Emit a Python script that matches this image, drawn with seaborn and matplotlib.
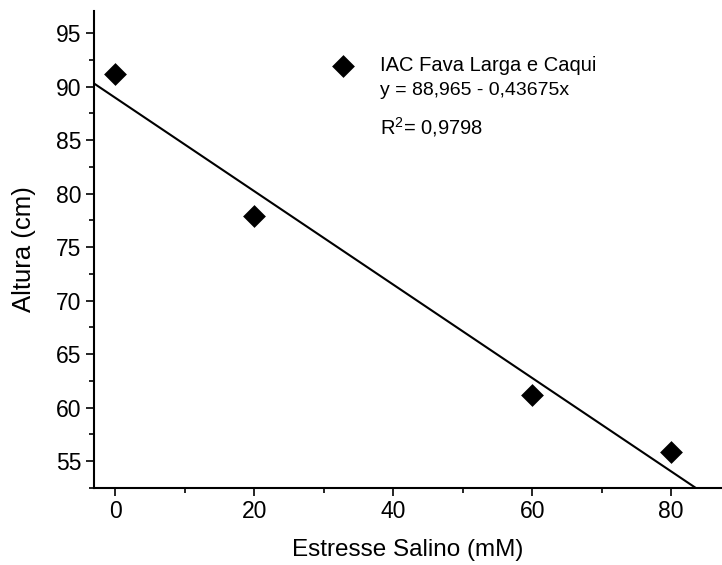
import numpy as np
import pandas as pd
import matplotlib
matplotlib.use("Agg")
import matplotlib.pyplot as plt
import seaborn as sns
from matplotlib.ticker import MultipleLocator

# Data
salinity = [0, 20, 60, 80]
height = [91.15, 77.9, 61.2, 55.8]
series_name = "IAC Fava Larga e Caqui"
intercept = 88.965
slope = -0.43675
eq_text = "y = 88,965 - 0,43675x"
r2_text = r"R$^2$= 0,9798"
x_ticks = [0, 20, 40, 60, 80]
y_ticks = [55, 60, 65, 70, 75, 80, 85, 90, 95]

df = pd.DataFrame({"x": salinity, "y": height})

sns.set_style("ticks")
plt.rcParams['font.family'] = ['Liberation Sans', 'DejaVu Sans']
plt.rcParams['mathtext.fontset'] = 'custom'
plt.rcParams['mathtext.rm'] = 'Liberation Sans'
plt.rcParams['text.color'] = 'black'
plt.rcParams['axes.labelcolor'] = 'black'
plt.rcParams['xtick.color'] = 'black'
plt.rcParams['ytick.color'] = 'black'

fig = plt.figure(figsize=(7.22, 5.65), dpi=100)
ax = fig.add_axes([0.130, 0.1363, 0.870, 0.8442])

ax.axline((0, intercept), slope=slope, color="black", lw=1.5, zorder=2)
sns.scatterplot(data=df, x="x", y="y", marker="D", s=135, color="black",
                edgecolor="black", linewidth=0, ax=ax, zorder=3, label=series_name)

ax.set_xlim(-3.05, 87.3)
ax.set_ylim(52.48, 97.06)
ax.set_xticks(x_ticks)
ax.set_yticks(y_ticks)
ax.xaxis.set_minor_locator(MultipleLocator(10))
ax.yaxis.set_minor_locator(MultipleLocator(2.5))

for s in ["top", "right"]:
    ax.spines[s].set_visible(False)
for s in ["left", "bottom"]:
    ax.spines[s].set_linewidth(1.5)
    ax.spines[s].set_color("black")

ax.tick_params(axis="both", which="major", direction="out", length=6, width=1.2,
               colors="black")
ax.tick_params(axis="both", which="minor", direction="out", length=3.5, width=1.2,
               colors="black")
ax.tick_params(axis="y", which="major", pad=3, labelsize=16.5,
               labelfontfamily="Liberation Sans", labelcolor="black")
ax.tick_params(axis="x", which="major", pad=3, labelsize=16.5,
               labelfontfamily="Liberation Sans", labelcolor="black")

ax.set_xlabel("Estresse Salino (mM)", fontsize=17.5, labelpad=11, color="black")
ax.set_ylabel("Altura (cm)", fontsize=18.5, labelpad=14, color="black")

leg = ax.legend(loc="center left", bbox_to_anchor=(0.3806, 0.886), frameon=False,
                fontsize=14.5, handlelength=1.0, handletextpad=1.34,
                borderaxespad=0, borderpad=0, markerscale=1.0, labelcolor="black")

ax.text(0.455, 0.8335, eq_text, transform=ax.transAxes, fontsize=14,
        va="center", ha="left", color="black")
ax.text(0.455, 0.756, r2_text, transform=ax.transAxes, fontsize=14.5,
        va="center", ha="left", color="black")

fig.savefig("out.png", dpi=100)
